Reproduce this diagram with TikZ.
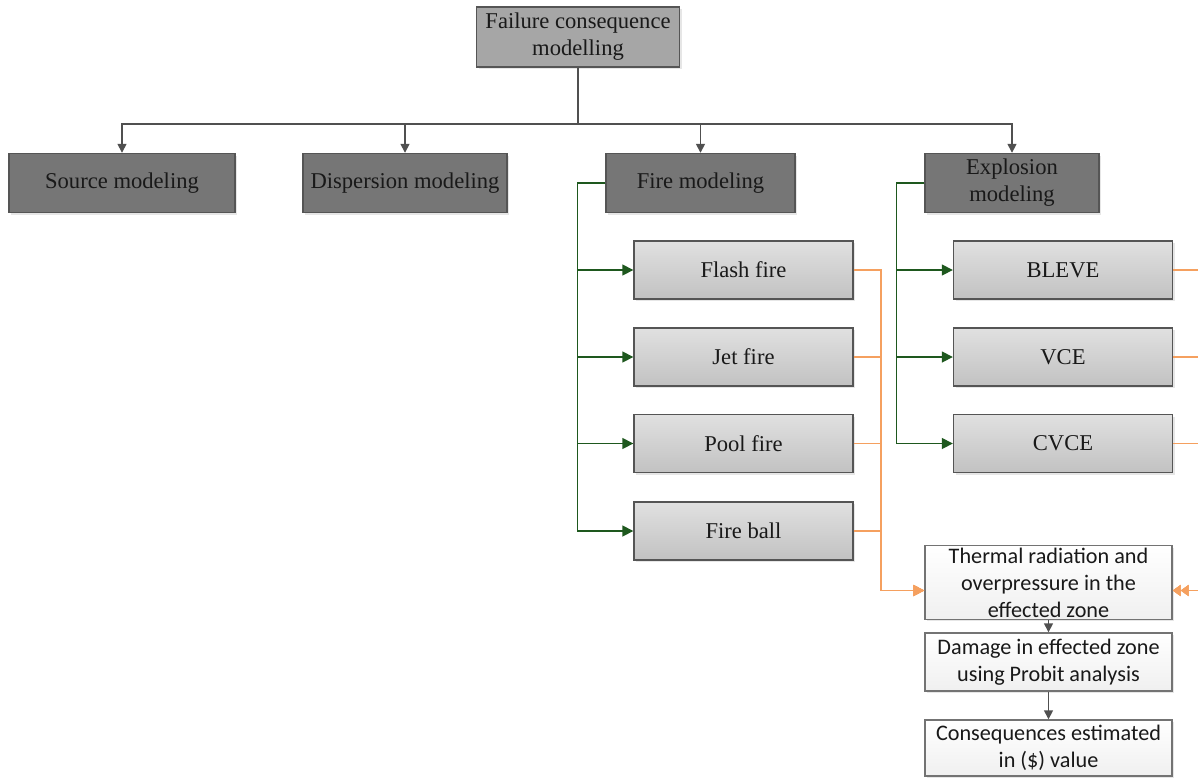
\documentclass[tikz,border=0pt]{standalone}
\usepackage{fontspec}
\setmainfont{Liberation Serif}
\newfontfamily\calibfont{Carlito}
\usetikzlibrary{arrows.meta,shadows}
\definecolor{topgray}{RGB}{166,166,166}
\definecolor{midgray}{RGB}{118,118,118}
\definecolor{edgegray}{RGB}{85,85,85}
\definecolor{linegray}{RGB}{80,80,80}
\definecolor{treegreen}{RGB}{30,88,30}
\definecolor{linkorange}{RGB}{245,160,95}
\begin{document}
\begin{tikzpicture}[x=0.5pt,y=-0.5pt,
    box/.style={draw=edgegray, line width=0.7pt, align=center, inner sep=1pt,
      text=black!90, font=\fontsize{11.3}{13.5}\selectfont,
      drop shadow={opacity=0.2, shadow xshift=1pt, shadow yshift=-1pt}},
    topbox/.style={box, fill=topgray, minimum width=101.5pt, minimum height=30pt},
    midbox/.style={box, fill=midgray, minimum height=29.5pt},
    subbox/.style={box, top color=black!12, bottom color=black!24,
      minimum width=109.5pt, minimum height=29pt},
    resbox/.style={box, draw=black!55, top color=white, bottom color=black!6,
      minimum width=123.5pt, font=\calibfont\fontsize{11.1}{13.5}\selectfont},
    gline/.style={draw=linegray, line width=0.75pt},
    garrow/.style={gline, -{Triangle[length=4.5pt,width=4.5pt]}},
    grnarrow/.style={draw=treegreen, line width=0.8pt, -{Triangle[length=5.5pt,width=5.5pt]}},
    orarrow/.style={draw=linkorange, line width=0.8pt, -{Triangle[length=5.5pt,width=5.5pt]}},
    orarrowtwo/.style={draw=linkorange, line width=0.8pt,
      -{Triangle[length=4pt,width=5.5pt]Triangle[length=4pt,width=5.5pt]}}]
  \useasboundingbox (0,0) rectangle (1198,777);

  \node[topbox] (fcm) at (578,37) {Failure consequence\\modelling};

  \node[midbox, minimum width=113pt] (src) at (122,183) {Source modeling};
  \node[midbox, minimum width=102pt] (disp) at (405,183) {Dispersion modeling};
  \node[midbox, minimum width=94.5pt] (fire) at (700.5,183) {Fire modeling};
  \node[midbox, minimum width=87pt] (expl) at (1012,183) {Explosion\\modeling};

  \node[subbox] (flash) at (743.5,270) {Flash fire};
  \node[subbox] (jet) at (743.5,357) {Jet fire};
  \node[subbox] (pool) at (743.5,443.5) {Pool fire};
  \node[subbox] (ball) at (743.5,531) {Fire ball};

  \node[subbox] (bleve) at (1063,270) {BLEVE};
  \node[subbox] (vce) at (1063,357) {VCE};
  \node[subbox] (cvce) at (1063,443.5) {CVCE};

  \node[resbox, minimum height=36.5pt] (therm) at (1048.5,582.5)
    {Thermal radiation and\\overpressure in the\\effected zone};
  \node[resbox, minimum height=29pt] (dmg) at (1048.5,662)
    {Damage in effected zone\\using Probit analysis};
  \node[resbox, minimum height=28pt] (cons) at (1048.5,748)
    {Consequences estimated\\in (\$) value};

  \coordinate (bus) at (578,124);
  \draw[gline] (fcm) -- (bus);
  \draw[garrow] (bus) -| (src);
  \draw[garrow] (bus) -| (disp);
  \draw[garrow] (bus) -| (fire);
  \draw[garrow] (bus) -| (expl);

  \foreach \n in {flash,jet,pool,ball}
    \draw[grnarrow] (fire.west) -- ++(-28,0) |- (\n);
  \foreach \n in {bleve,vce,cvce}
    \draw[grnarrow] (expl.west) -- ++(-28,0) |- (\n);

  \foreach \n in {flash,jet,pool,ball}
    \draw[orarrow] (\n.east) -- ++(27,0) |- ([yshift=-4pt]therm.west);
  \foreach \n in {bleve,vce,cvce}
    \draw[orarrowtwo] (\n.east) -- ++(29,0) |- ([yshift=-4pt]therm.east);

  \draw[garrow] (therm) -- (dmg);
  \draw[garrow] (dmg) -- (cons);
\end{tikzpicture}
\end{document}
